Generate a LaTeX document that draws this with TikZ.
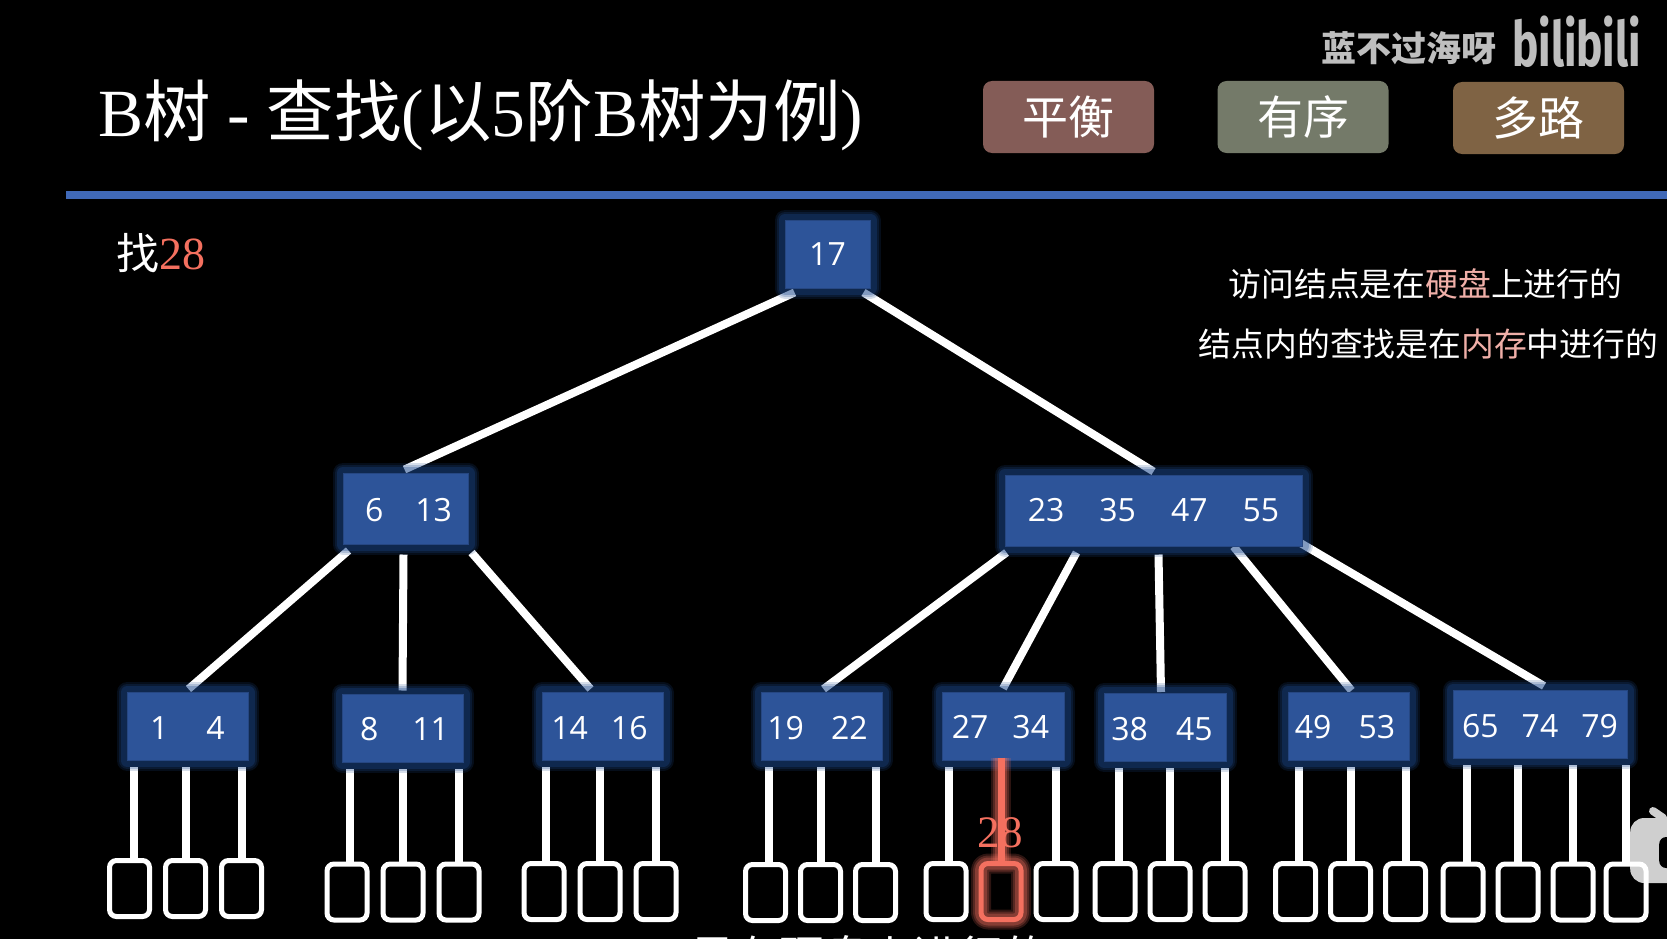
\documentclass[tikz,border=0pt]{standalone}
\usepackage{fontspec}
\usepackage{tikz}
\usetikzlibrary{arrows.meta,positioning,fit,backgrounds}
\setmainfont{Liberation Serif}
\newfontfamily\cjk{Noto Sans CJK SC}
\newfontfamily\numfont{Open Sans}
\newfontfamily\logofont{Fira Sans}
\definecolor{bnodeblue}{HTML}{2D5499}
\definecolor{glowblue}{HTML}{1D4A8F}
\definecolor{rulerblue}{HTML}{4069B8}
\definecolor{hitred}{HTML}{F4705F}
\definecolor{softpink}{HTML}{F0AFA8}
\definecolor{markgrey}{HTML}{BEBEBE}
\definecolor{icongrey}{HTML}{CFCFCF}

\begin{document}
\begin{tikzpicture}[
    x=1pt, y=-1pt,
    softglow/.style 2 args={
        preaction={draw=#1, draw opacity=.18, line join=round, line width=#2+12pt},
        preaction={draw=#1, draw opacity=.22, line join=round, line width=#2+8pt},
        preaction={draw=#1, draw opacity=.30, line join=round, line width=#2+4pt}},
    bnode/.style={fill=bnodeblue, draw=bnodeblue!85!black, line width=1pt, minimum height=68pt, inner sep=0pt, text=white,
        text height=26pt, font=\numfont\fontsize{32}{36}\selectfont, softglow={glowblue}{9pt}},
    leaf/.style={draw=white, line width=5pt, rounded corners=7pt, minimum width=40pt, minimum height=56pt, inner sep=0pt},
    hitleaf/.style={leaf, draw=hitred, softglow={hitred}{8pt}},
    edge/.style={draw=white, line width=8pt},
    childedge/.style={edge, shorten >=6pt},
    hitedge/.style={draw=hitred, line width=7pt, softglow={hitred}{8pt}},
    tagbox/.style={rounded corners=9pt, minimum width=171pt, minimum height=72pt, inner sep=0pt, text=white, font=\cjk\fontsize{46}{50}\selectfont},
    note/.style={text=white, inner sep=0pt, font=\fontsize{32.8}{36}\selectfont},
]
    \begin{scope}[on background layer]
        \fill[black] (0,0) rectangle (1667,939);
    \end{scope}
    \useasboundingbox (0,0) rectangle (1667,939);

    % heading
    \node[anchor=west, text=white, inner sep=0pt, font=\fontsize{67.5}{72}\selectfont] (title) at (98,115) {B{\cjk 树} - {\cjk 查找}({\cjk 以}5{\cjk 阶}B{\cjk 树为例})};
    \node[tagbox, fill={rgb,255:red,132;green,92;blue,87}] (balance) at (1068.5,117) {\raisebox{3pt}{平衡}};
    \node[tagbox, fill={rgb,255:red,116;green,122;blue,105}] (ordered) at (1303,117) {\raisebox{3pt}{有序}};
    \node[tagbox, fill={rgb,255:red,127;green,99;blue,68}] (multiway) at (1538.5,118) {\raisebox{3pt}{多路}};
    \node[anchor=east, text=markgrey, inner sep=0pt, font=\cjk\bfseries\fontsize{35}{38}\selectfont] (mark) at (1497,48) {蓝不过海呀};
    \node[anchor=west, text=markgrey, inner sep=0pt, xscale=.92, yscale=1.3, font=\logofont\bfseries\fontsize{48}{50}\selectfont] (logo) at (1512,42) {bilibili};

    \node[fill=rulerblue, minimum width=1601pt, minimum height=8pt, inner sep=0pt, anchor=west] (ruler) at (66,195) {};

    \node[anchor=west, text=white, inner sep=0pt, font=\fontsize{46}{50}\selectfont] (query) at (116,253) {{\cjk\fontsize{43}{46}\selectfont 找}\textcolor{hitred}{28}};
    \node[note] (line1) at (1425.5,284) {\cjk 访问结点是在\textcolor{softpink}{硬盘}上进行的};
    \node[note] (line2) at (1428.5,344) {\cjk 结点内的查找是在\textcolor{softpink}{内存}中进行的};

    % tree
    \node[bnode, minimum width=85pt, text height=23pt] (root) at (827.5,254) {17};
    \node[bnode, minimum width=125pt, minimum height=71pt] (n613) at (405.5,508.5) {\kern6pt 6\hspace{32pt}13};
    \node[bnode, minimum width=297pt, minimum height=71pt, text height=23pt] (n2355) at (1153.5,510.5) {23\hspace{35pt}35\hspace{35pt}47\hspace{35pt}55};

    \node[bnode, minimum width=121pt] (n14) at (187.5,726.5) {1\hspace{38pt}4};
    \node[bnode, minimum width=121pt] (n811) at (402.5,728) {\kern4pt 8\hspace{34pt}11};
    \node[bnode, minimum width=121pt] (n1416) at (602.5,726.5) {\kern-6pt 14\hspace{23pt}16};
    \node[bnode, minimum width=121pt] (n1922) at (821.5,726.5) {\kern-8pt 19\hspace{27pt}22};
    \node[bnode, minimum width=122pt] (n2734) at (1003,726) {\kern-5pt 27\hspace{24pt}34};
    \node[bnode, minimum width=122pt] (n3845) at (1165,727.5) {\kern-6pt 38\hspace{28pt}45};
    \node[bnode, minimum width=121pt] (n4953) at (1348.5,726) {\kern-7pt 49\hspace{27pt}53};
    \node[bnode, minimum width=174pt] (n657479) at (1540,724.5) {65\hspace{23pt}74\hspace{23pt}79};

    % bottom row of empty children
    \node[leaf] (a1) at (129.5,888.5) {};
    \node[leaf, right=11pt of a1] (a2) {};
    \node[leaf, right=11pt of a2] (a3) {};
    \node[leaf] (b1) at (347,892) {};
    \node[leaf, right=11pt of b1] (b2) {};
    \node[leaf, right=11pt of b2] (b3) {};
    \node[leaf] (c1) at (544,891.5) {};
    \node[leaf, right=11pt of c1] (c2) {};
    \node[leaf, right=11pt of c2] (c3) {};
    \node[leaf] (d1) at (765.5,892.5) {};
    \node[leaf, right=10pt of d1] (d2) {};
    \node[leaf, right=10pt of d2] (d3) {};
    \node[leaf] (e1) at (946,891.5) {};
    \node[hitleaf, right=10pt of e1] (e2) {};
    \node[leaf, right=10pt of e2] (e3) {};
    \node[leaf] (f1) at (1115,891.5) {};
    \node[leaf, right=10pt of f1] (f2) {};
    \node[leaf, right=10pt of f2] (f3) {};
    \node[leaf] (g1) at (1295.5,891.5) {};
    \node[leaf, right=10pt of g1] (g2) {};
    \node[leaf, right=10pt of g2] (g3) {};
    \node[leaf] (h1) at (1463,892) {};
    \node[leaf, right=10pt of h1] (h2) {};
    \node[leaf, right=10pt of h2] (h3) {};
    \node[leaf, right=8pt of h3] (h4) {};

    % subtitle, cut off by the lower edge
    \node[inner sep=0pt, text=white, font=\cjk\fontsize{44.7}{48}\selectfont] (subtitle) at (869,956) {是在硬盘上进行的};

    \begin{scope}[on background layer]
        % player icon in the corner
        \node[fill=icongrey, rounded corners=14pt, minimum width=70pt, minimum height=65pt, inner sep=0pt, anchor=west] (tvicon) at (1630,850.5) {};
        \node[fill=black, rounded corners=7pt, minimum width=30pt, minimum height=31pt, inner sep=0pt, anchor=west] (tvhole) at (1659,852.5) {};
        \coordinate (aerial) at (1653,811);
        \draw[icongrey, line width=8pt, line cap=round] (aerial) -- (tvicon.north west -| 1663,0);

        \draw[edge] ([xshift=10pt,yshift=-4pt]root.south west) -- ([xshift=-1pt,yshift=3pt]n613.north);
        \draw[edge] ([xshift=-7pt,yshift=-4pt]root.south east) -- ([yshift=3pt]n2355.north);
        \draw[edge] ([xshift=6pt,yshift=-6pt]n613.south west) -- ([xshift=1pt,yshift=3pt]n14.north);
        \draw[edge] ([xshift=-2pt,yshift=-10pt]n613.south) -- ([yshift=3pt]n811.north);
        \draw[edge] ([xshift=3pt,yshift=-8pt]n613.south east) -- ([xshift=-12pt,yshift=3pt]n1416.north);
        \draw[edge] ([xshift=2pt,yshift=-6pt]n2355.south west) -- ([xshift=2pt,yshift=3pt]n1922.north);
        \draw[edge] ([xshift=-77pt,yshift=-6pt]n2355.south) -- ([yshift=3pt]n2734.north);
        \draw[edge] ([xshift=5pt,yshift=-8pt]n2355.south) -- ([xshift=-4pt,yshift=1pt]n3845.north);
        \draw[edge] ([xshift=-69pt,yshift=0pt]n2355.south east) -- ([xshift=3pt,yshift=1pt]n4953.north);
        \draw[edge] ([xshift=-3pt,yshift=4pt]n2355.south east) -- ([xshift=4pt,yshift=4pt]n657479.north);

        \draw[childedge] ([xshift=4pt]a1.north) -- ([xshift=4pt]a1.north |- n14.south);
        \draw[childedge] (a2.north) -- (a2.north |- n14.south);
        \draw[childedge] (a3.north) -- (a3.north |- n14.south);
        \draw[childedge] ([xshift=3pt]b1.north) -- ([xshift=3pt]b1.north |- n811.south);
        \draw[childedge] (b2.north) -- (b2.north |- n811.south);
        \draw[childedge] (b3.north) -- (b3.north |- n811.south);
        \draw[childedge] ([xshift=2pt]c1.north) -- ([xshift=2pt]c1.north |- n1416.south);
        \draw[childedge] (c2.north) -- (c2.north |- n1416.south);
        \draw[childedge] (c3.north) -- (c3.north |- n1416.south);
        \draw[childedge] ([xshift=3pt]d1.north) -- ([xshift=3pt]d1.north |- n1922.south);
        \draw[childedge] (d2.north) -- (d2.north |- n1922.south);
        \draw[childedge] (d3.north) -- (d3.north |- n1922.south);
        \draw[childedge] ([xshift=3pt]e1.north) -- ([xshift=3pt]e1.north |- n2734.south);
        \draw[childedge] (e3.north) -- (e3.north |- n2734.south);
        \draw[childedge] ([xshift=4pt]f1.north) -- ([xshift=4pt]f1.north |- n3845.south);
        \draw[childedge] (f2.north) -- (f2.north |- n3845.south);
        \draw[childedge] (f3.north) -- (f3.north |- n3845.south);
        \draw[childedge] ([xshift=3pt]g1.north) -- ([xshift=3pt]g1.north |- n4953.south);
        \draw[childedge] (g2.north) -- (g2.north |- n4953.south);
        \draw[childedge] (g3.north) -- (g3.north |- n4953.south);
        \draw[childedge] ([xshift=4pt]h1.north) -- ([xshift=4pt]h1.north |- n657479.south);
        \draw[childedge] (h2.north) -- (h2.north |- n657479.south);
        \draw[childedge] (h3.north) -- (h3.north |- n657479.south);
        \draw[childedge] (h4.north) -- (h4.north |- n657479.south);
    \end{scope}

    % the path that was followed
    \node[inner sep=0pt, text=hitred, font=\fontsize{45}{48}\selectfont] (found) at (1000,833) {28};
    \draw[hitedge] ([yshift=3pt]e2.north |- n2734.south) -- (e2.north);
\end{tikzpicture}
\end{document}
